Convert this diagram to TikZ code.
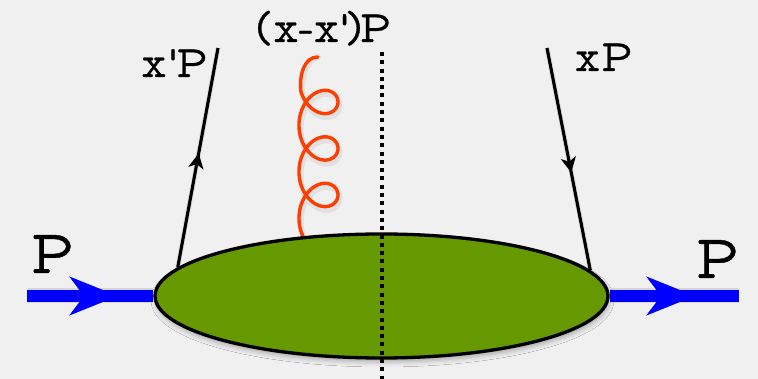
\documentclass[tikz,border=0pt]{standalone}
\usepackage{fontspec}
\newfontfamily\labelfont[FakeBold=0.6]{Latin Modern Mono Prop}
\usetikzlibrary{arrows.meta,shapes.geometric,decorations.markings,shadows.blur}
\definecolor{bgpaper}{RGB}{240,240,240}
\definecolor{blobgreen}{RGB}{102,153,0}
\definecolor{gluonred}{RGB}{255,61,0}
\newcommand\cbx[2]{\makebox[#1][c]{#2}}
\begin{document}
\begin{tikzpicture}[x=1pt,y=-1pt,
  proton/.style={line width=12pt, blue},
  ptip/.style={-{Stealth[length=48pt,width=38pt,inset=14pt]}},
  quark/.style={line width=3.1pt, black},
  qarrow/.style={postaction={decorate, decoration={markings,
      mark=at position #1 with {\arrow{Stealth[length=15pt,width=15pt,inset=4pt]}}}}},
  gluon/.style={line width=3.4pt, gluonred, line cap=round},
  cut/.style={line width=3.4pt, black, dash pattern=on 4pt off 4.3pt},
  softshadow/.style 2 args={draw=black, draw opacity=#1, line width=#2, xshift=1.5pt, yshift=-3.5pt},
  bigtxt/.style={font=\labelfont\fontsize{62}{62}\selectfont, inner sep=0pt, anchor=base},
  smalltxt/.style={font=\labelfont\fontsize{45}{45}\selectfont, inner sep=0pt, anchor=base},
  blobstyle/.style={ellipse, draw=black, line width=3.3pt, fill=blobgreen,
      minimum width=453pt, minimum height=124pt, inner sep=0pt}]
\fill[bgpaper] (0,0) rectangle (758,379);
\useasboundingbox (0,0) rectangle (758,379);

% coordinates
\coordinate (pinL) at (27,296);
\coordinate (tipL) at (118,296);
\coordinate (poutR) at (739,296);
\coordinate (tipR) at (695,296);
\coordinate (qLtop) at (218,48);
\coordinate (qRtop) at (547,48);
\coordinate (cutTop) at (382,52);
\coordinate (cutBot) at (382,379);
\coordinate (gEnd) at (318,57);

% invisible copy of the blob for anchors
\path (381.5,296) node[blobstyle, fill=none, draw=none] (blobpos) {};

% soft shadows
\draw[softshadow={0.10}{15pt}] (pinL) -- (blobpos.west);
\draw[softshadow={0.10}{15pt}] (blobpos.east) -- (poutR);
\draw[softshadow={0.06}{6pt}, line cap=round, domain=-0.75:18.4, samples=300, variable=\t]
  plot ({318.5-19.5*cos(\t r)}, {218.2-7.4*\t-22*sin(\t r)})
  .. controls (299,75) and (304,57) .. (gEnd);
\draw[softshadow={0.07}{5pt}] (blobpos.172.4) -- (qLtop);
\draw[softshadow={0.07}{5pt}] (qRtop) -- (blobpos.7.5);

% gluon (behind the blob)
\draw[gluon, domain=-0.75:18.4, samples=300, variable=\t]
  plot ({318.5-19.5*cos(\t r)}, {218.2-7.4*\t-22*sin(\t r)})
  .. controls (299,75) and (304,57) .. (gEnd);

% protons
\draw[proton] (pinL) -- (blobpos.west);
\draw[proton, ptip] (pinL) -- (tipL);
\draw[proton] (blobpos.east) -- (poutR);
\draw[proton, ptip] (blobpos.east) -- (tipR);

% blob
\node[blobstyle, blur shadow={shadow xshift=1pt, shadow yshift=-4pt,
      shadow blur radius=5pt, shadow opacity=30}] (blob) at (381.5,296) {};

% quark lines
\draw[quark, qarrow=0.52] (blob.172.4) -- (qLtop);
\draw[quark, qarrow=0.56] (qRtop) -- (blob.7.5);

% cut line
\draw[cut] (cutTop) -- (cutBot);

% labels
\node[bigtxt] (PL) at (52.5,273) {P};
\node[bigtxt] (PR) at (717.5,278) {P};
\node[smalltxt] (xpP) at (173,77) {\cbx{29pt}{x}\cbx{9pt}{'}\cbx{29pt}{P}};
\node[smalltxt] (xP) at (602,71) {\cbx{30pt}{x}\cbx{29pt}{P}};
\node[smalltxt] (gl) at (323,42) {\cbx{15pt}{(}\cbx{30pt}{x}\cbx{11pt}{-}\cbx{29pt}{x}\cbx{7pt}{'}\cbx{13pt}{)}\cbx{29pt}{P}};
\end{tikzpicture}
\end{document}
